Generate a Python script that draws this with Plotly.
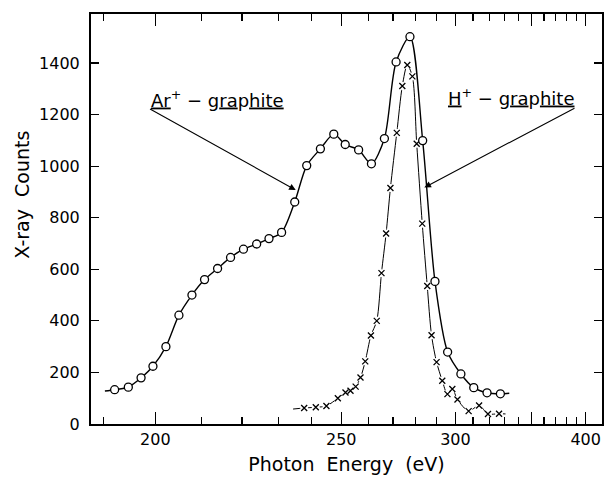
import numpy as np
import plotly.graph_objects as go

# ---------------- data ----------------
# Ar+ - graphite (open circles)
ar_energy = [192.0, 194.6, 197.1, 199.5, 202.2, 205.0, 207.9, 210.8, 213.9, 217.1,
             220.4, 223.9, 227.3, 230.9, 234.8, 238.5, 242.9, 247.4, 251.4, 256.3,
             261.2, 266.4, 271.3, 277.4, 283.3, 289.3, 295.8, 303.0, 310.4, 318.5, 327.2]
ar_counts = [133, 143, 179, 224, 300, 422, 500, 560, 603, 646,
             678, 698, 719, 743, 861, 1002, 1067, 1124, 1084, 1063,
             1009, 1107, 1404, 1502, 1099, 553, 279, 194, 141, 121, 117]
# drawn curve extends a little beyond first / last circle
ar_curve_ends_energy = [190.2, 333.3]
ar_curve_ends_counts = [128, 119]

# H+ - graphite (crosses)
h_energy = [237.7, 241.4, 244.9, 248.8, 251.5, 253.3, 255.2, 257.0, 258.8, 261.0,
            263.3, 265.2, 267.1, 268.9, 271.6, 274.0, 276.2, 278.5, 280.5, 283.1,
            285.5, 287.6, 290.1, 293.0, 295.7, 298.3, 301.1, 307.4, 313.6, 319.1, 326.3]
h_counts = [62, 65, 70, 100, 122, 129, 145, 180, 243, 343,
            400, 585, 739, 915, 1129, 1311, 1392, 1348, 1087, 777,
            535, 344, 240, 168, 116, 136, 95, 50, 72, 39, 40]
h_curve_ends_energy = [234.3, 330.7]
h_curve_ends_counts = [58, 39]

x_major_ticks = [200, 250, 300, 350, 400]
x_major_labels = ["200", "250", "300", "", "400"]
x_minor_ticks = [190, 210, 220, 230, 240, 260, 270, 280, 290,
                 310, 320, 330, 340, 360, 370, 380, 390]
y_ticks = [0, 200, 400, 600, 800, 1000, 1200, 1400]


# ---------------- axis scale (non-linear energy axis of the original) ----------------
def escale(e):
    e = np.asarray(e, dtype=float)
    return 1.0 - (200.0 / e) ** 1.4


def curve(ends_e, ends_c, e, c):
    return ([ends_e[0]] + list(e) + [ends_e[1]], [ends_c[0]] + list(c) + [ends_c[1]])


fig = go.Figure()

# H+ curve (thin line broken at the crosses)
hx, hy = curve(h_curve_ends_energy, h_curve_ends_counts, h_energy, h_counts)
fig.add_trace(go.Scatter(x=escale(hx), y=hy, mode="lines",
                         line=dict(color="black", width=1, shape="spline", smoothing=0.8),
                         hoverinfo="skip"))
fig.add_trace(go.Scatter(x=escale(h_energy), y=h_counts, mode="markers",
                         marker=dict(symbol="circle", size=8, color="white",
                                     line=dict(width=0)), hoverinfo="skip"))
fig.add_trace(go.Scatter(x=escale(h_energy), y=h_counts, mode="markers",
                         name="H+ - graphite",
                         marker=dict(symbol="x-thin-open", size=6, color="black",
                                     line=dict(color="black", width=1.3))))

# Ar+ curve with open circles
ax_, ay_ = curve(ar_curve_ends_energy, ar_curve_ends_counts, ar_energy, ar_counts)
fig.add_trace(go.Scatter(x=escale(ax_), y=ay_, mode="lines",
                         line=dict(color="black", width=1.4, shape="spline", smoothing=0.8),
                         hoverinfo="skip"))
fig.add_trace(go.Scatter(x=escale(ar_energy), y=ar_counts, mode="markers",
                         name="Ar+ - graphite",
                         marker=dict(symbol="circle", size=8, color="white",
                                     line=dict(color="black", width=1.3))))

FONT = "DejaVu Sans"

fig.update_layout(
    width=608, height=483,
    margin=dict(l=91, r=4, t=14, b=59),
    paper_bgcolor="white", plot_bgcolor="white",
    showlegend=False,
    font=dict(family=FONT, color="black", size=16),
    xaxis=dict(
        range=[float(escale(187.7)), float(escale(418.8))],
        tickmode="array",
        tickvals=list(escale(x_major_ticks)), ticktext=x_major_labels,
        ticks="inside", ticklen=12, tickwidth=1.2, tickcolor="black",
        minor=dict(tickmode="array", tickvals=list(escale(x_minor_ticks)),
                   ticks="inside", ticklen=7, tickwidth=1.2, tickcolor="black",
                   showgrid=False),
        showline=True, linewidth=2, linecolor="black", mirror="ticks",
        showgrid=False, zeroline=False,
        tickfont=dict(family=FONT, size=16),
        title=dict(text="Photon  Energy  (eV)", font=dict(family=FONT, size=19), standoff=9),
    ),
    yaxis=dict(
        range=[0, 1590],
        tickmode="array", tickvals=y_ticks, ticktext=[str(v) for v in y_ticks],
        ticks="inside", ticklen=8, tickwidth=1.2, tickcolor="black",
        showline=True, linewidth=2, linecolor="black", mirror="ticks",
        showgrid=False, zeroline=False,
        tickfont=dict(family=FONT, size=16),
        ticklabelstandoff=6,
    ),
)

# y-axis title
fig.add_annotation(text="X-ray  Counts", xref="paper", yref="paper",
                   x=-0.1345, y=0.56, textangle=-90, showarrow=False,
                   font=dict(family=FONT, size=19), xanchor="center", yanchor="middle")

# labels
fig.add_annotation(text="<u>Ar</u><sup>+</sup> \u2212 g<u>ra</u>p<u>hite</u>",
                   x=float(escale(198.7)), y=1262, xref="x", yref="y",
                   showarrow=False, xanchor="left", yanchor="middle",
                   font=dict(family=FONT, size=18))
fig.add_annotation(text="<u>H</u><sup>+</sup> \u2212 g<u>ra</u>p<u>hite</u>",
                   x=float(escale(295.1)), y=1268, xref="x", yref="y",
                   showarrow=False, xanchor="left", yanchor="middle",
                   font=dict(family=FONT, size=18))

# arrows
fig.add_annotation(text="", x=float(escale(235.1)), y=907, xref="x", yref="y",
                   ax=float(escale(198.6)), ay=1225, axref="x", ayref="y",
                   showarrow=True, arrowhead=2, arrowsize=1.2, arrowwidth=1.1,
                   arrowcolor="black", standoff=0)
fig.add_annotation(text="", x=float(escale(284.1)), y=917, xref="x", yref="y",
                   ax=float(escale(389.8)), ay=1228, axref="x", ayref="y",
                   showarrow=True, arrowhead=2, arrowsize=1.2, arrowwidth=1.1,
                   arrowcolor="black", standoff=0)

fig.write_html("out.html",
               config={"displayModeBar": False, "staticPlot": True},
               post_script="document.body.style.margin='0px';document.body.style.overflow='hidden';")
